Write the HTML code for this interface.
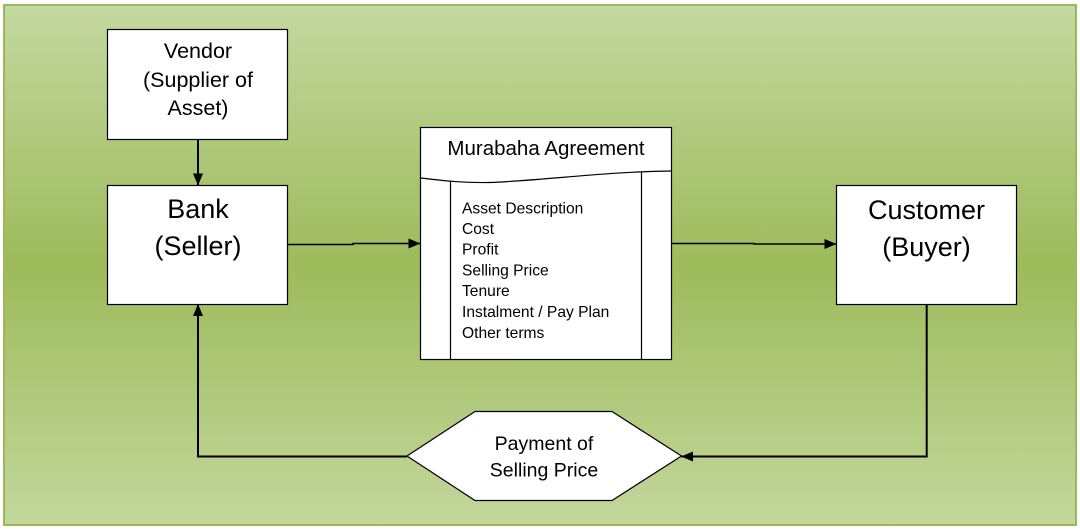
<!DOCTYPE html>
<html>
<head>
<meta charset="utf-8">
<style>
  html, body { margin:0; padding:0; background:#ffffff; }
  body { width:1080px; height:531px; overflow:hidden; }
  svg { display:block; }
  text { font-family: "Liberation Sans", Arial, sans-serif; fill:#000; }
</style>
</head>
<body>
<svg width="1080" height="531" viewBox="0 0 1080 531" xmlns="http://www.w3.org/2000/svg">
  <defs>
    <linearGradient id="bg" x1="0" y1="0" x2="0" y2="1">
      <stop offset="0" stop-color="#c4d8a0"/>
      <stop offset="0.5" stop-color="#9dbb5b"/>
      <stop offset="1" stop-color="#c3d79c"/>
    </linearGradient>
    <marker id="ah" markerWidth="12" markerHeight="10" refX="11.5" refY="5" orient="auto" markerUnits="userSpaceOnUse">
      <path d="M0,0 L12,5 L0,10 Z" fill="#000"/>
    </marker>
  </defs>

  <!-- background panel -->
  <rect x="4" y="5" width="1072" height="520" fill="url(#bg)" stroke="#9bb95a" stroke-width="2"/>

  <!-- Vendor box -->
  <rect x="107.5" y="29.5" width="180" height="110" fill="#fff" stroke="#000" stroke-width="1.2"/>
  <text x="198" y="58" font-size="21.5" text-anchor="middle">Vendor</text>
  <text x="198" y="87" font-size="21.5" text-anchor="middle">(Supplier of</text>
  <text x="198" y="115" font-size="21.5" text-anchor="middle">Asset)</text>

  <!-- Vendor -> Bank -->
  <line x1="198" y1="139.5" x2="198" y2="185" stroke="#000" stroke-width="2" marker-end="url(#ah)"/>

  <!-- Bank box -->
  <rect x="107.5" y="185.5" width="180" height="119" fill="#fff" stroke="#000" stroke-width="1.2"/>
  <text x="198" y="218" font-size="27" text-anchor="middle">Bank</text>
  <text x="198" y="255" font-size="27" text-anchor="middle">(Seller)</text>

  <!-- Customer box -->
  <rect x="836.5" y="185.5" width="180" height="119" fill="#fff" stroke="#000" stroke-width="1.2"/>
  <text x="926.5" y="219" font-size="27" text-anchor="middle">Customer</text>
  <text x="926.5" y="256" font-size="27" text-anchor="middle">(Buyer)</text>

  <!-- Murabaha document -->
  <rect x="420.5" y="127.5" width="251" height="232" fill="#fff" stroke="#000" stroke-width="1.2"/>
  <path d="M421,178 C445,181 465,183 490,182.5 C550,180 600,172 671,171" fill="none" stroke="#000" stroke-width="1.2"/>
  <line x1="450.5" y1="180.5" x2="450.5" y2="359.5" stroke="#000" stroke-width="1.2"/>
  <line x1="641.5" y1="172" x2="641.5" y2="359.5" stroke="#000" stroke-width="1.2"/>
  <text x="546" y="155" font-size="20.5" text-anchor="middle">Murabaha Agreement</text>
  <g font-size="15.6">
    <text x="462" y="213.3">Asset Description</text>
    <text x="462" y="234">Cost</text>
    <text x="462" y="254.5">Profit</text>
    <text x="462" y="275.5">Selling Price</text>
    <text x="462" y="296">Tenure</text>
    <text x="462" y="316.8">Instalment / Pay Plan</text>
    <text x="462" y="338">Other terms</text>
  </g>

  <!-- Bank -> Murabaha -->
  <polyline points="287.5,244.5 353,244.5 353,243.5 420,243.5" fill="none" stroke="#000" stroke-width="1.5" marker-end="url(#ah)"/>
  <!-- Murabaha -> Customer -->
  <polyline points="671.5,243.5 754,243.5 754,244 836,244" fill="none" stroke="#000" stroke-width="1.5" marker-end="url(#ah)"/>

  <!-- Hexagon -->
  <polygon points="407,456 475,411.5 612,411.5 681.5,456 612,500.5 475,500.5" fill="#fff" stroke="#000" stroke-width="1.2"/>
  <text x="544" y="450" font-size="19.5" text-anchor="middle">Payment of</text>
  <text x="544" y="476.7" font-size="19.5" text-anchor="middle">Selling Price</text>

  <!-- Customer -> hexagon -->
  <polyline points="926.7,304.5 926.7,456.5 681.5,456.5" fill="none" stroke="#000" stroke-width="2" marker-end="url(#ah)"/>
  <!-- hexagon -> Bank -->
  <polyline points="407,456.5 198,456.5 198,304.5" fill="none" stroke="#000" stroke-width="2" marker-end="url(#ah)"/>
</svg>
</body>
</html>
